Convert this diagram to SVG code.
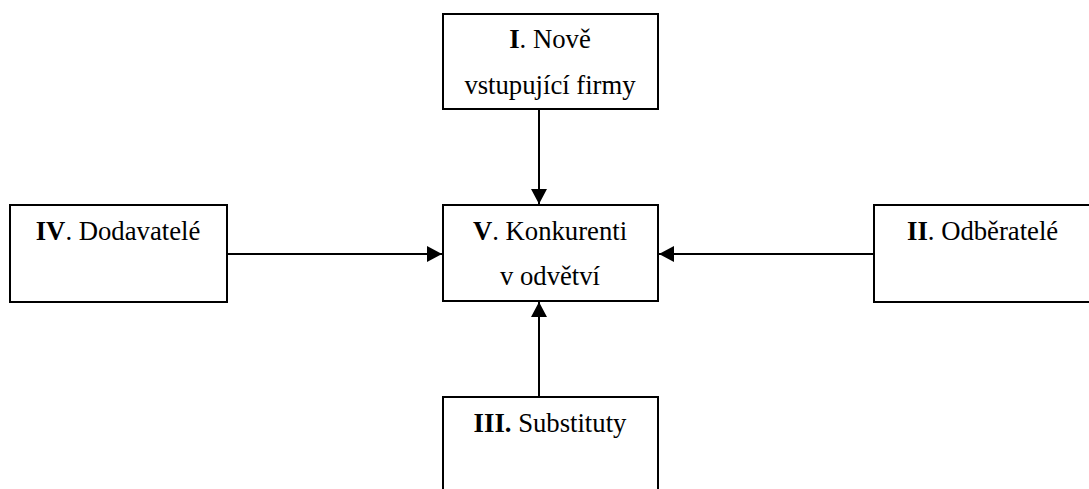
<svg xmlns="http://www.w3.org/2000/svg" width="1089" height="489" viewBox="0 0 1089 489">
<style>
.box{fill:#fff;stroke:#000;stroke-width:2}
.t{font-family:"Liberation Serif","Times New Roman",serif;font-size:26.7px;fill:#000}
.b{font-weight:bold}
.c{stroke:#000;stroke-width:2;fill:none}
</style>
<defs>
<marker id="ah" markerUnits="userSpaceOnUse" markerWidth="16" markerHeight="16" refX="15" refY="8" orient="auto">
<path d="M0,0 L15,8 L0,16 Z" fill="#000"/>
</marker>
</defs>
<rect width="1089" height="489" fill="#fff"/>
<g id="connectors">
<line class="c" x1="539" y1="109" x2="539" y2="204" marker-end="url(#ah)"/>
<line class="c" x1="539" y1="397" x2="539" y2="302" marker-end="url(#ah)"/>
<line class="c" x1="227" y1="254" x2="442" y2="254" marker-end="url(#ah)"/>
<line class="c" x1="874" y1="254" x2="659" y2="254" marker-end="url(#ah)"/>
</g>
<g id="node-I">
<rect class="box" x="443" y="14" width="215" height="95"/>
<text class="t" x="550" y="48" text-anchor="middle"><tspan class="b">I</tspan>. Nově</text>
<text class="t" x="550" y="94" text-anchor="middle">vstupující firmy</text>
</g>
<g id="node-V">
<rect class="box" x="443" y="205" width="215" height="96"/>
<text class="t" x="550" y="240" text-anchor="middle"><tspan class="b">V</tspan>. Konkurenti</text>
<text class="t" x="550" y="285" text-anchor="middle">v odvětví</text>
</g>
<g id="node-IV">
<rect class="box" x="10" y="205" width="217" height="97"/>
<text class="t" x="118" y="240" text-anchor="middle"><tspan class="b">IV</tspan>. Dodavatelé</text>
</g>
<g id="node-II">
<rect class="box" x="874" y="205" width="230" height="97"/>
<text class="t" x="907" y="240"><tspan class="b">II</tspan>. Odběratelé</text>
</g>
<g id="node-III">
<rect class="box" x="443" y="397" width="215" height="110"/>
<text class="t" x="550" y="432" text-anchor="middle"><tspan class="b">III.</tspan> Substituty</text>
</g>
</svg>
